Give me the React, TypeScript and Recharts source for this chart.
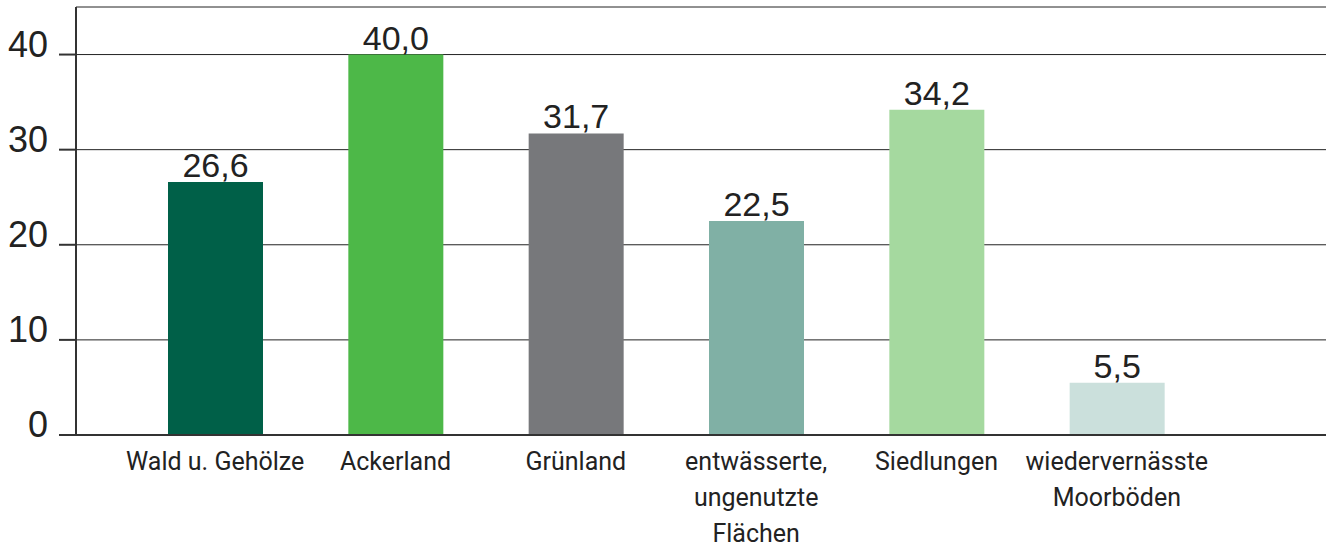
import { BarChart, Bar, XAxis, YAxis, CartesianGrid, Cell, LabelList } from "recharts";

const categories = [
  "Wald u. Gehölze",
  "Ackerland",
  "Grünland",
  "entwässerte,\nungenutzte\nFlächen",
  "Siedlungen",
  "wiedervernässte\nMoorböden",
];
const values = [26.6, 40.0, 31.7, 22.5, 34.2, 5.5];
const yTicks = [0, 10, 20, 30, 40];

const COLORS = ["#006048", "#4db848", "#77787b", "#80b0a5", "#a5d99f", "#cbe0dc"];

const data = categories.map((name, i) => ({ name, value: values[i] }));

function XTick({ x, y, payload }: any) {
  const lines = String(payload.value).split("\n");
  return (
    <text
      x={x}
      y={y + 27}
      textAnchor="middle"
      fill="#222"
      fontFamily="Roboto, sans-serif"
      fontSize={25}
    >
      {lines.map((l, i) => (
        <tspan key={i} x={x} dy={i === 0 ? 0 : 36}>
          {l}
        </tspan>
      ))}
    </text>
  );
}

function YTick({ x, y, payload }: any) {
  return (
    <text
      x={x + 1}
      y={y + 2}
      textAnchor="end"
      fill="#222"
      fontFamily="'Liberation Sans', Arial, sans-serif"
      fontSize={36}
    >
      {payload.value}
    </text>
  );
}

export default function App() {
  return (
    <div style={{ position: "absolute", left: 0, top: 0, background: "#fff" }}>
      <BarChart
        width={1326}
        height={549}
        data={data}
        margin={{ top: 7, right: 0, bottom: 0, left: 0 }}
        barSize={95}
      >
        <CartesianGrid vertical={false} stroke="#222" strokeWidth={1} />
        <XAxis
          dataKey="name"
          height={114}
          interval={0}
          tickLine={false}
          stroke="#333"
          strokeWidth={2}
          padding={{ left: 49, right: 119 }}
          tick={<XTick />}
        />
        <YAxis
          width={76}
          domain={[0, 45]}
          ticks={yTicks}
          tickSize={17}
          tickMargin={12}
          stroke="#333"
          strokeWidth={2}
          tick={<YTick />}
        />
        <Bar dataKey="value" isAnimationActive={false}>
          {data.map((_, i) => (
            <Cell key={i} fill={COLORS[i]} />
          ))}
          <LabelList
            dataKey="value"
            position="top"
            offset={5}
            formatter={(v: any) => Number(v).toFixed(1).replace(".", ",")}
            fill="#222"
            fontFamily="'Liberation Sans', Arial, sans-serif"
            fontSize={34}
          />
        </Bar>
      </BarChart>
    </div>
  );
}
